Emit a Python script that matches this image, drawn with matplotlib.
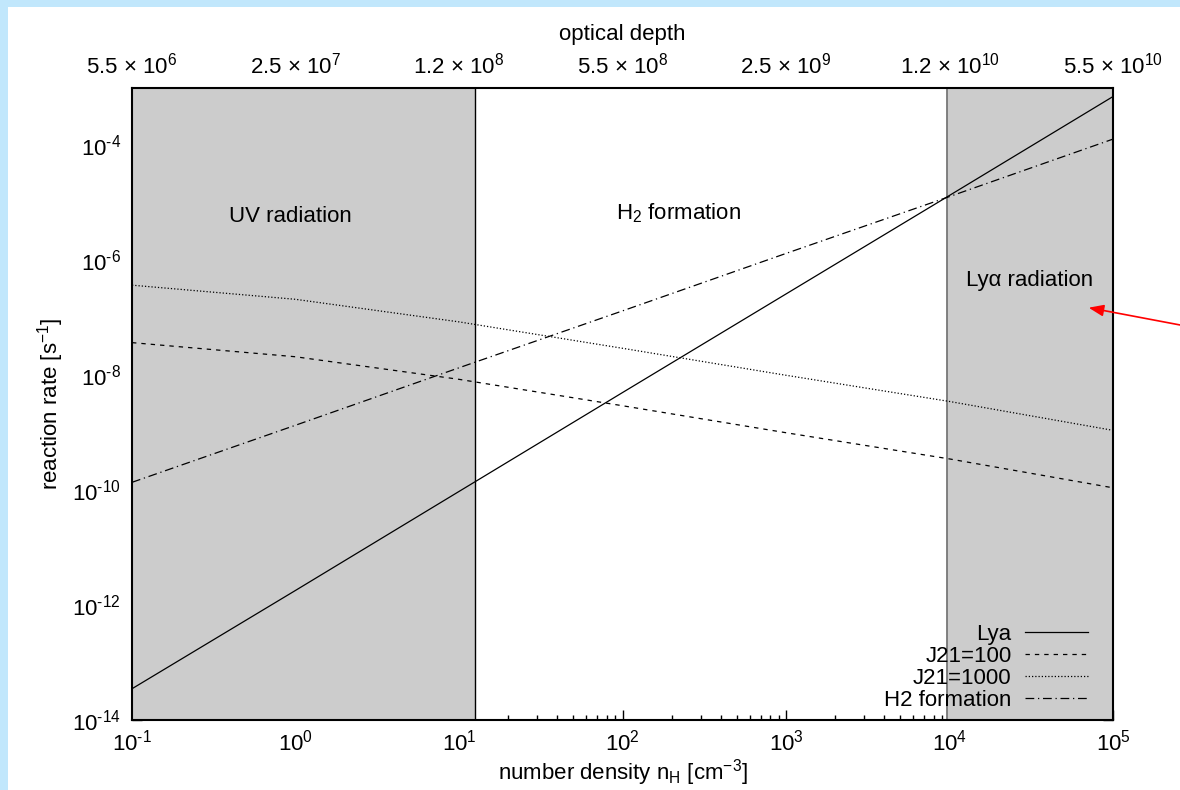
import matplotlib
matplotlib.use("Agg")
import matplotlib.pyplot as plt
from matplotlib.patches import Rectangle
from matplotlib.ticker import LogLocator, NullFormatter, FixedLocator, FixedFormatter

plt.rcParams['font.family'] = ['Liberation Sans', 'DejaVu Sans']
plt.rcParams['mathtext.fontset'] = 'custom'
plt.rcParams['mathtext.rm'] = 'Liberation Sans'
plt.rcParams['mathtext.it'] = 'Liberation Sans:italic'
plt.rcParams['mathtext.sf'] = 'Liberation Sans'
plt.rcParams['mathtext.default'] = 'regular'

# number density n_H [cm^-3] and reaction rates [s^-1]
density = [0.1, 1, 10, 100, 1e3, 1e4, 1e5]
lya_rate = [3.5e-14, 1.8e-12, 9.5e-11, 5.0e-9, 2.6e-7, 1.35e-5, 7.1e-4]
j21_100_rate = [3.7e-8, 2.1e-8, 8.5e-9, 2.95e-9, 1.0e-9, 3.5e-10, 1.1e-10]
j21_1000_rate = [3.7e-7, 2.1e-7, 8.5e-8, 2.95e-8, 1.0e-8, 3.5e-9, 1.1e-9]
h2_rate = [1.37e-10, 1.35e-9, 1.35e-8, 1.32e-7, 1.32e-6, 1.29e-5, 1.29e-4]

# regime boundaries in density
uv_edge = 12.5
lya_edge = 9.7e3

# axis tick values
density_ticks = [0.1, 1, 10, 100, 1e3, 1e4, 1e5]
density_exponents = ["-1", "0", "1", "2", "3", "4", "5"]
rate_ticks = [1e-14, 1e-12, 1e-10, 1e-8, 1e-6, 1e-4]
rate_exponents = ["-14", "-12", "-10", "-8", "-6", "-4"]

# optical depth on the top axis, at each density decade
depth_mantissas = ["5.5", "2.5", "1.2", "5.5", "2.5", "1.2", "5.5"]
depth_exponents = ["6", "7", "8", "8", "9", "10", "10"]

region_labels = ["UV radiation", r"H$_2$ formation", "Ly\u03b1 radiation"]


def power_label(exp):
    # keep a plain hyphen for negative exponents
    if exp.startswith("-"):
        return r"10$^{\text{-}%s}$" % exp[1:]
    return r"10$^{%s}$" % exp


def depth_label(mantissa, exp):
    return mantissa + " \u00d7 10$^{" + exp + "}$"


W, H = 1180, 790
FS = 16
fig = plt.figure(figsize=(W / 100, H / 100), dpi=100)
fig.patches.append(Rectangle((0, 0), 8 / W, 1, transform=fig.transFigure,
                             facecolor='#c1e7fc', edgecolor='none', zorder=0))
fig.patches.append(Rectangle((0, 1 - 7 / H), 1, 7 / H, transform=fig.transFigure,
                             facecolor='#c1e7fc', edgecolor='none', zorder=0))

ax = fig.add_axes([132 / W, 1 - 720 / H, (1113 - 132) / W, (720 - 88) / H])
ax.set_xscale('log')
ax.set_yscale('log')
xmin, xmax = 0.1, 1e5
ymin, ymax = 1e-14, 1e-3
ax.set_xlim(xmin, xmax)
ax.set_ylim(ymin, ymax)
ax.set_axisbelow(True)

# shaded regimes
ax.axvspan(xmin, uv_edge, facecolor='#cccccc', edgecolor='none', zorder=1)
ax.axvspan(lya_edge, xmax, facecolor='#cccccc', edgecolor='none', zorder=1)
ax.axvline(uv_edge, color='black', lw=1.0, zorder=1.5)
ax.axvline(lya_edge, color='#777777', lw=1.3, zorder=1.5)

lw = 0.9
ax.plot(density, lya_rate, color='black', lw=lw, ls='-', label='Lya', zorder=3)
ax.plot(density, j21_100_rate, color='black', lw=lw, ls=(0, (3.5, 4)), label='J21=100', zorder=3)
ax.plot(density, j21_1000_rate, color='black', lw=lw, ls=(0, (1, 1.6)), label='J21=1000', zorder=3)
ax.plot(density, h2_rate, color='black', lw=lw, ls=(0, (7, 3, 1, 3)), label='H2 formation', zorder=3)

for s in ax.spines.values():
    s.set_linewidth(1.5)
    s.set_zorder(4)

ax.xaxis.set_major_locator(FixedLocator(density_ticks))
ax.xaxis.set_major_formatter(FixedFormatter([power_label(e) for e in density_exponents]))
ax.xaxis.set_minor_locator(LogLocator(base=10, subs=range(2, 10), numticks=20))
ax.xaxis.set_minor_formatter(NullFormatter())
ax.yaxis.set_major_locator(FixedLocator(rate_ticks))
ax.yaxis.set_major_formatter(FixedFormatter([power_label(e) for e in rate_exponents]))
ax.yaxis.set_minor_locator(FixedLocator([]))
ax.tick_params(which='both', direction='in', top=True, right=True, width=1.0,
               labelsize=FS)
ax.tick_params(which='major', length=7.5)
ax.tick_params(which='minor', length=3.8)
ax.tick_params(axis='x', which='major', pad=7)
ax.tick_params(axis='y', which='major', pad=8)

ax.set_xlabel(r"number density n$_{\rm H}$ [cm$^{-3}$]", fontsize=FS, labelpad=1)
ax.set_ylabel(r"reaction rate [s$^{-1}$]", fontsize=FS, labelpad=4)

# top axis: optical depth labels only
top = ax.twiny()
top.set_xscale('log')
top.set_xlim(xmin, xmax)
top.xaxis.set_major_locator(FixedLocator(density_ticks))
top.xaxis.set_major_formatter(FixedFormatter(
    [depth_label(m, e) for m, e in zip(depth_mantissas, depth_exponents)]))
top.xaxis.set_minor_locator(FixedLocator([]))
top.tick_params(axis='x', length=0, pad=7, labelsize=FS)
for s in top.spines.values():
    s.set_visible(False)
top.set_xlabel("optical depth", fontsize=FS, labelpad=9)

# regime labels
ax.text(0.93, 5.8e-6, region_labels[0], ha='center', va='center', fontsize=FS)
ax.text(2.2e2, 6.6e-6, region_labels[1], ha='center', va='center', fontsize=FS)
ax.text(3.1e4, 4.5e-7, region_labels[2], ha='center', va='center', fontsize=FS)

ax.annotate("", xy=(7.1e4, 1.5e-7), xycoords='data',
            xytext=(1.02, 0.583), textcoords='figure fraction',
            arrowprops=dict(arrowstyle='-|>,head_length=0.9,head_width=0.35',
                            color='red', lw=1.2, shrinkA=0, shrinkB=0),
            annotation_clip=False, zorder=5)

leg = ax.legend(loc='lower right', frameon=False, markerfirst=False, fontsize=FS,
                handlelength=2.85, handletextpad=0.6, labelspacing=0.05,
                borderaxespad=0.0, bbox_to_anchor=(0.984, 0.0))

fig.savefig("out.png", dpi=100)
